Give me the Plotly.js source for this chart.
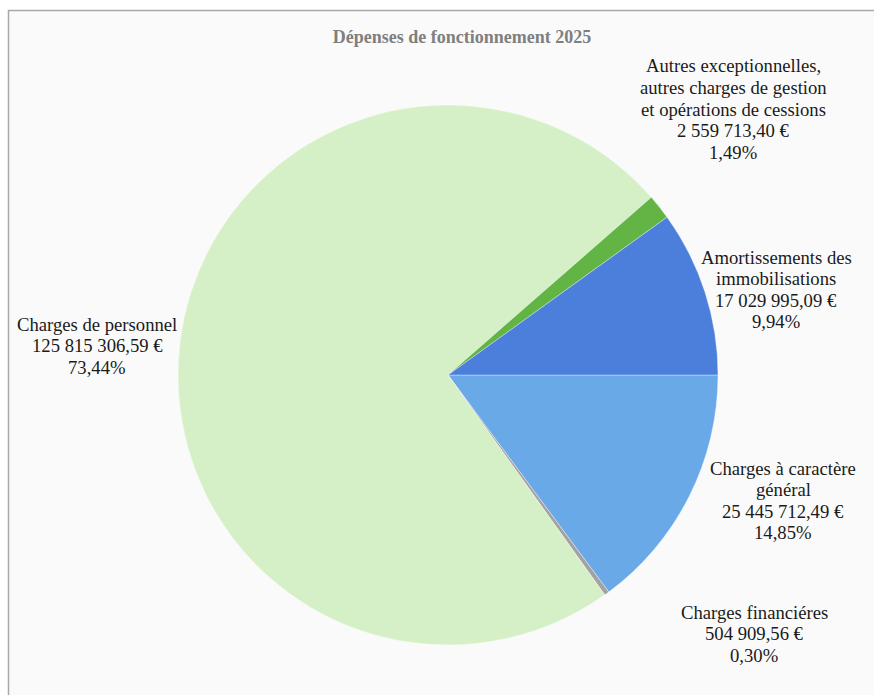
<!DOCTYPE html>
<html>
<head>
<meta charset="utf-8">
<script src="https://cdn.plot.ly/plotly-3.0.1.min.js"></script>
<style>
html,body{margin:0;padding:0;background:#ffffff;}
#chart{width:874px;height:695px;}
</style>
</head>
<body>
<div id="chart"></div>
<script>
// Categories in drawing order (clockwise from 3 o'clock)
var categories = [
  "Charges à caractère général",
  "Charges financiéres",
  "Charges de personnel",
  "Autres exceptionnelles, autres charges de gestion et opérations de cessions",
  "Amortissements des immobilisations"
];
var labelLines = [
  ["Charges à caractère", "général"],
  ["Charges financiéres"],
  ["Charges de personnel"],
  ["Autres exceptionnelles,", "autres charges de gestion", "et opérations de cessions"],
  ["Amortissements des", "immobilisations"]
];
var values = [25445712.49, 504909.56, 125815306.59, 2559713.40, 17029995.09];
var valueLabels = ["25 445 712,49 €", "504 909,56 €", "125 815 306,59 €", "2 559 713,40 €", "17 029 995,09 €"];
var percentLabels = ["14,85%", "0,30%", "73,44%", "1,49%", "9,94%"];
var colors = ["#6aa9e7", "#a2a2a2", "#d5f0c6", "#62b545", "#4b7fdb"];

// Label positions (pixels): centre x and first-line y
var labelPos = [[783, 468], [754, 612], [97, 324], [733, 66], [776, 257]];
var LINE_H = 21.5;

var W = 874, H = 695;
var FONT = "Liberation Serif";
var annotations = [];
categories.forEach(function (c, i) {
  var lines = labelLines[i].concat([valueLabels[i], percentLabels[i]]);
  lines.forEach(function (ln, k) {
    annotations.push({
      text: ln,
      xref: "paper", yref: "paper",
      x: labelPos[i][0] / W, y: 1 - (labelPos[i][1] + k * LINE_H) / H,
      xanchor: "center", yanchor: "middle",
      showarrow: false, align: "center",
      font: {family: FONT, size: 18.67, color: "#1a1a1a"}
    });
  });
});

var cx = 448, cy = 375, r = 270;
var data = [{
  type: "pie",
  labels: categories,
  values: values,
  sort: false,
  direction: "clockwise",
  rotation: 90,
  textinfo: "none",
  hoverinfo: "label+value+percent",
  marker: {colors: colors, line: {color: "rgba(255,255,255,0.35)", width: 1}},
  domain: {x: [(cx - r) / W, (cx + r) / W], y: [1 - (cy + r) / H, 1 - (cy - r) / H]},
  showlegend: false
}];

var layout = {
  width: W, height: H,
  margin: {l: 0, r: 0, t: 0, b: 0},
  paper_bgcolor: "#ffffff",
  font: {family: FONT},
  title: {
    text: "<b>Dépenses de fonctionnement 2025</b>",
    x: 462 / W, y: 1 - 37 / H, xanchor: "center", yanchor: "middle",
    xref: "paper", yref: "paper",
    font: {family: FONT, size: 18, color: "#7f7f7f"}
  },
  shapes: [{
    type: "rect", xref: "paper", yref: "paper", layer: "below",
    x0: 8.5 / W, x1: 1.05, y0: -0.05, y1: 1 - 10.5 / H,
    fillcolor: "#fafafa", line: {color: "#a9a9a9", width: 1.5}
  }],
  annotations: annotations
};

Plotly.newPlot("chart", data, layout, {displayModeBar: false, staticPlot: true});
</script>
</body>
</html>
